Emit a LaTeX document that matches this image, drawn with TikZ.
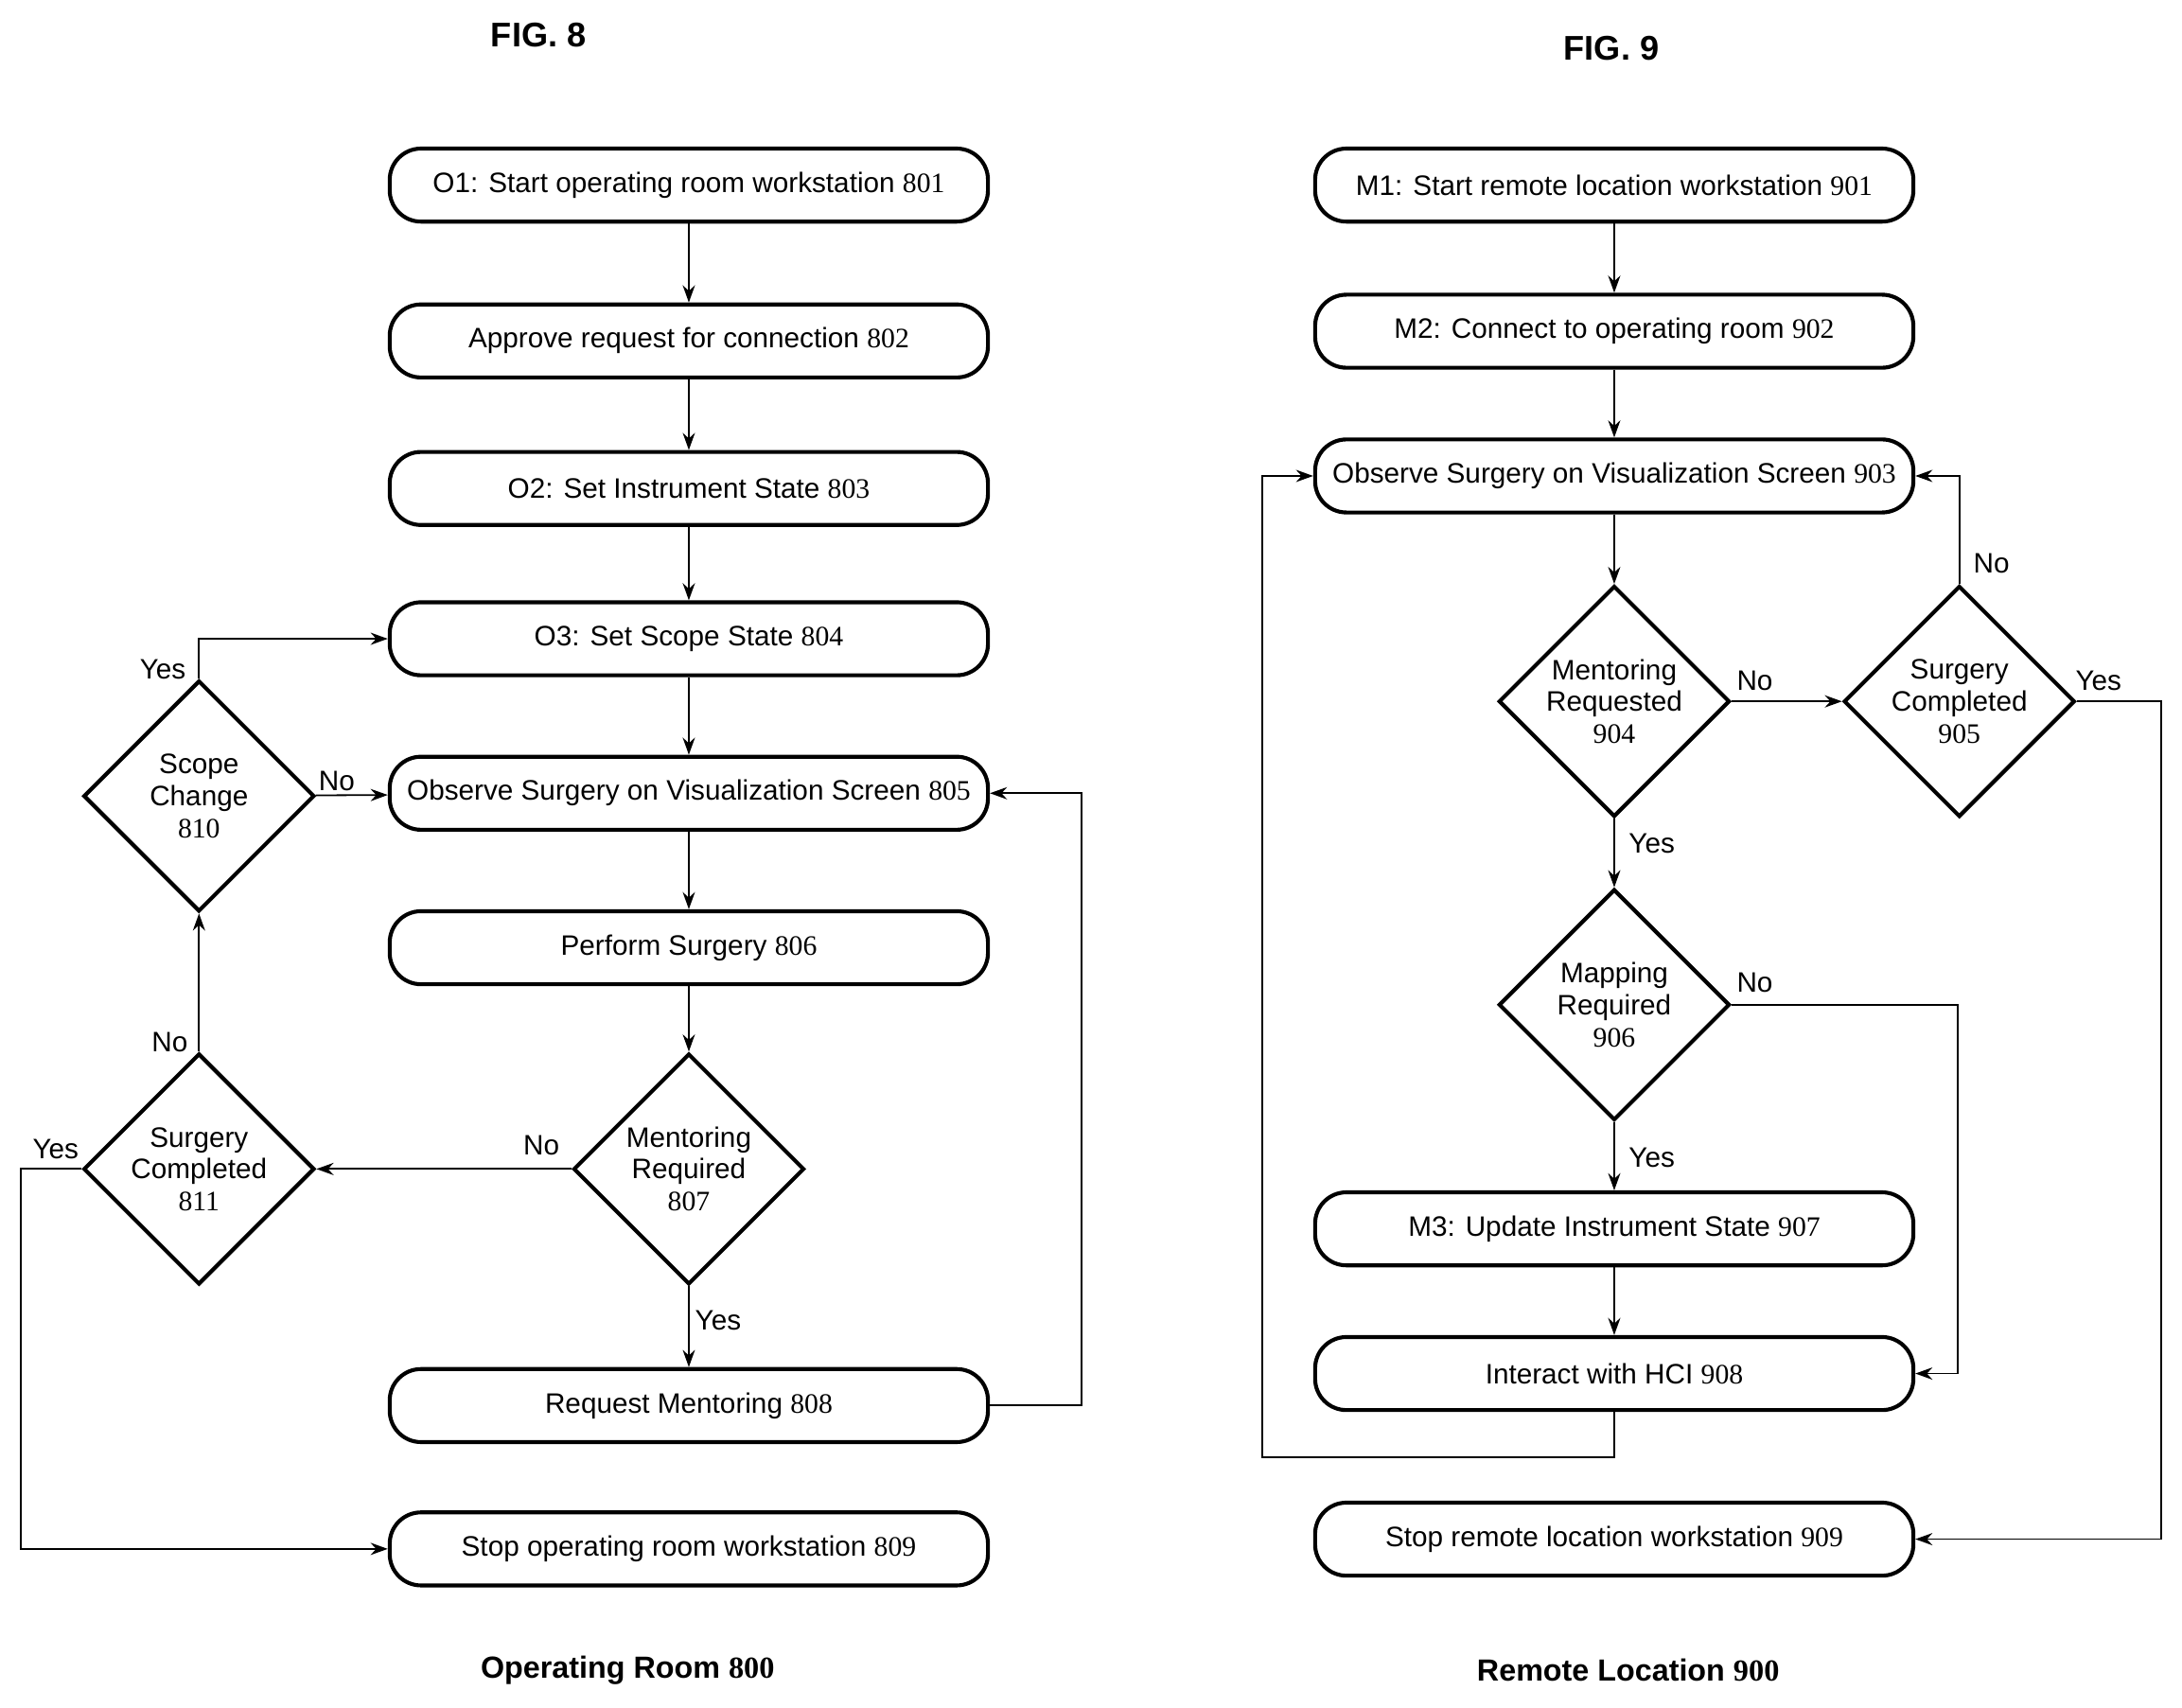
\documentclass[tikz,border=0pt]{standalone}
\usepackage{fontspec}
\setmainfont{Liberation Sans}
\newfontfamily\numfont{Liberation Serif}
\usetikzlibrary{shapes.geometric,arrows.meta}
\newcommand{\nr}[1]{{\numfont #1}}
\tikzstyle{stage}=[draw, line width=1.6pt, rounded corners=0.45cm, minimum width=8.6cm, minimum height=1.05cm, font=\fontsize{11.5}{13}\selectfont]
\tikzstyle{test}=[draw, diamond, line width=1.6pt, minimum width=3.32cm, minimum height=3.32cm, inner sep=0pt, align=center, font=\fontsize{11.5}{13}\selectfont]
\tikzstyle{flow}=[-{Stealth[length=7pt,width=5pt]}, line width=0.7pt]
\tikzstyle{annot}=[font=\fontsize{11.5}{13}\selectfont]
\begin{document}
\begin{tikzpicture}[x=0.02cm, y=-0.02cm]
\useasboundingbox (0,0) rectangle (1568,1227);

% titles
\node[font=\bfseries\fontsize{14}{16}\selectfont] (t8) at (387,25) {FIG. 8};
\node[font=\bfseries\fontsize{14}{16}\selectfont] (t9) at (1158,35) {FIG. 9};
\node[font=\bfseries\fontsize{12.5}{14}\selectfont] (c8) at (451,1200) {Operating Room \nr{800}};
\node[font=\bfseries\fontsize{12.5}{14}\selectfont] (c9) at (1170,1200) {Remote Location \nr{900}};

% operating room 800
\node[stage] (S801) at (495,133) {O1: Start operating room workstation \nr{801}};
\node[stage] (S802) at (495,245) {Approve request for connection \nr{802}};
\node[stage] (S803) at (495,351) {O2: Set Instrument State \nr{803}};
\node[stage] (S804) at (495,459) {O3: Set Scope State \nr{804}};
\node[stage] (S805) at (495,570) {Observe Surgery on Visualization Screen \nr{805}};
\node[stage] (S806) at (495,681) {Perform Surgery \nr{806}};
\node[test] (S807) at (495,840) {Mentoring\\Required\\\nr{807}};
\node[stage] (S808) at (495,1010) {Request Mentoring \nr{808}};
\node[stage] (S809) at (495,1113) {Stop operating room workstation \nr{809}};
\node[test] (S810) at (143,572) {Scope\\Change\\\nr{810}};
\node[test] (S811) at (143,840) {Surgery\\Completed\\\nr{811}};

\draw[flow] (S801) -- (S802);
\draw[flow] (S802) -- (S803);
\draw[flow] (S803) -- (S804);
\draw[flow] (S804) -- (S805);
\draw[flow] (S805) -- (S806);
\draw[flow] (S806) -- (S807);
\draw[flow] (S807) -- (S808);
\draw[flow] (S807) -- (S811);
\draw[flow] (S808.east) -- (777,1010) |- (S805.east);
\draw[flow] (S811) -- (S810);
\draw[flow] (S810) -- (S805);
\draw[flow] (S810.north) |- (S804.west);
\draw[flow] (S811.west) -- (15,840) |- (S809.west);

\node[annot] (l1) at (389,823) {No};
\node[annot] (l2) at (516,949) {Yes};
\node[annot] (l3) at (122,749) {No};
\node[annot] (l4) at (242,561) {No};
\node[annot] (l5) at (117,481) {Yes};
\node[annot] (l6) at (40,826) {Yes};

% remote location 900
\node[stage] (S901) at (1160,133) {M1: Start remote location workstation \nr{901}};
\node[stage] (S902) at (1160,238) {M2: Connect to operating room \nr{902}};
\node[stage] (S903) at (1160,342) {Observe Surgery on Visualization Screen \nr{903}};
\node[test] (S904) at (1160,504) {Mentoring\\Requested\\\nr{904}};
\node[test] (S905) at (1408,504) {Surgery\\Completed\\\nr{905}};
\node[test] (S906) at (1160,722) {Mapping\\Required\\\nr{906}};
\node[stage] (S907) at (1160,883) {M3: Update Instrument State \nr{907}};
\node[stage] (S908) at (1160,987) {Interact with HCI \nr{908}};
\node[stage] (S909) at (1160,1106) {Stop remote location workstation \nr{909}};

\draw[flow] (S901) -- (S902);
\draw[flow] (S902) -- (S903);
\draw[flow] (S903) -- (S904);
\draw[flow] (S904) -- (S905);
\draw[flow] (S905.north) |- (S903.east);
\draw[flow] (S905.east) -- (1553,504) |- (S909.east);
\draw[flow] (S904) -- (S906);
\draw[flow] (S906.east) -- (1407,722) |- (S908.east);
\draw[flow] (S906) -- (S907);
\draw[flow] (S907) -- (S908);
\draw[flow] (S908.south) -- (1160,1047) -- (907,1047) |- (S903.west);

\node[annot] (m1) at (1261,489) {No};
\node[annot] (m2) at (1431,405) {No};
\node[annot] (m3) at (1508,489) {Yes};
\node[annot] (m4) at (1187,606) {Yes};
\node[annot] (m5) at (1261,706) {No};
\node[annot] (m6) at (1187,832) {Yes};
\end{tikzpicture}
\end{document}
